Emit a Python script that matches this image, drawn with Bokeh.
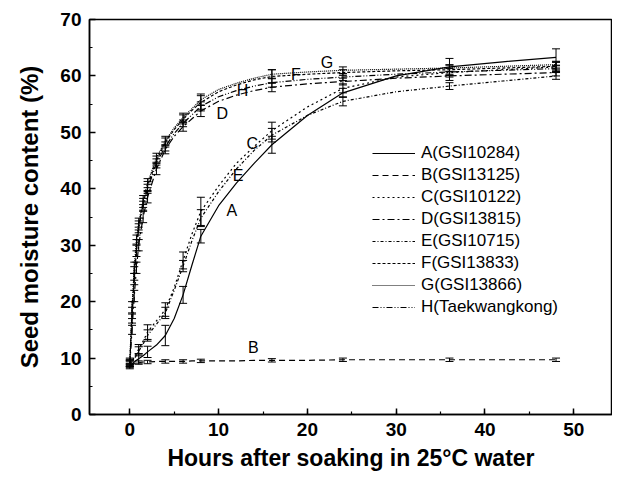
from bokeh.plotting import figure
from bokeh.models import (Range1d, SingleIntervalTicker, Whisker, ColumnDataSource,
                          Legend, LegendItem, TeeHead, Label)
from bokeh.embed import file_html
from bokeh.resources import INLINE

# ---- data ----
T = [0, 0.25, 0.5, 0.75, 1, 1.5, 2, 3, 4, 5, 6, 7, 8, 10, 12, 14, 16, 20, 24, 30, 36, 42, 48]

A = [8.6, 8.9, 9.3, 9.6, 9.9, 10.4, 11.1, 12.3, 14.0, 17.0, 21.2, 26.5, 31.6, 37.0, 41.0, 44.5, 47.8, 53.0, 57.0, 60.0, 61.6, 62.5, 63.3]
B = [8.6, 8.8, 9.0, 9.1, 9.2, 9.3, 9.3, 9.4, 9.4, 9.4, 9.4, 9.5, 9.5, 9.5, 9.5, 9.6, 9.6, 9.6, 9.7, 9.7, 9.7, 9.7, 9.7]
C = [9.0, 9.5, 10.1, 10.8, 11.6, 13.0, 14.6, 16.6, 18.6, 22.5, 27.3, 32.0, 36.0, 40.5, 44.5, 47.5, 50.3, 54.5, 57.8, 59.8, 60.6, 61.1, 61.6]
D = [9.0, 15.0, 21.0, 26.0, 30.0, 35.0, 38.5, 43.5, 47.0, 49.3, 51.0, 52.4, 53.8, 55.5, 56.6, 57.4, 58.0, 58.6, 59.0, 59.6, 60.0, 60.3, 60.6]
E = [9.0, 9.4, 9.9, 10.5, 11.2, 12.5, 14.0, 16.0, 18.0, 22.0, 26.3, 30.8, 34.8, 39.5, 43.5, 46.8, 49.5, 53.0, 55.5, 57.2, 58.2, 59.1, 60.0]
F = [9.3, 18.0, 25.0, 30.0, 33.5, 37.5, 40.5, 45.0, 48.2, 50.5, 52.3, 53.9, 55.3, 57.2, 58.4, 59.3, 59.9, 60.3, 60.6, 60.9, 61.1, 61.4, 61.7]
G = [9.5, 19.0, 26.0, 31.0, 34.0, 38.0, 41.0, 45.5, 48.5, 50.8, 52.6, 54.2, 55.8, 57.6, 58.7, 59.6, 60.3, 60.7, 61.0, 61.2, 61.4, 61.7, 62.0]
H = [9.2, 17.0, 24.0, 29.0, 33.0, 37.0, 40.0, 44.5, 47.5, 49.8, 51.6, 53.1, 54.6, 56.3, 57.4, 58.2, 58.8, 59.4, 59.8, 60.3, 60.7, 61.0, 61.3]

# measurement times carrying error bars
TE_FAST = [0, 0.25, 0.5, 0.75, 1, 1.5, 2, 3, 4, 6, 8, 16, 24, 36, 48]
TE_SLOW = [0, 1, 2, 4, 6, 8, 16, 24, 36, 48]

ERR_A = [0.5, 0.8, 1.0, 1.8, 1.5, 1.2, 1.5, 0.8, 1.5, 1.5]
ERR_B = [0.3, 0.3, 0.3, 0.3, 0.3, 0.3, 0.3, 0.3, 0.3, 0.3]
ERR_C = [0.5, 0.8, 1.3, 1.2, 1.5, 2.5, 1.5, 0.8, 0.8, 0.8]
ERR_E = [0.5, 0.8, 1.0, 1.0, 1.0, 1.5, 1.2, 0.8, 0.6, 0.6]
ERR_D = [0.5, 0.8, 1.0, 1.0, 1.0, 1.0, 1.0, 1.0, 0.8, 0.8, 1.0, 0.8, 0.6, 0.8, 0.6]
ERR_F = [0.5, 1.0, 1.2, 1.0, 0.8, 0.8, 0.8, 0.8, 0.8, 0.8, 1.2, 1.2, 0.5, 0.8, 0.8]
ERR_G = [0.5, 1.0, 1.0, 0.8, 0.8, 0.8, 0.8, 0.8, 0.8, 0.8, 1.0, 0.8, 0.6, 0.6, 0.6]
ERR_H = [0.5, 0.8, 1.0, 1.0, 0.8, 0.8, 0.8, 0.8, 0.8, 0.6, 0.8, 0.8, 0.6, 0.6, 0.6]

NAMES = ["A(GSI10284)", "B(GSI13125)", "C(GSI10122)", "D(GSI13815)",
         "E(GSI10715)", "F(GSI13833)", "G(GSI13866)", "H(Taekwangkong)"]
LETTERS = ["A", "B", "C", "D", "E", "F", "G", "H"]
# curve label anchor positions (data units)
LABEL_X = [11.5, 13.9, 13.8, 10.4, 12.2, 18.7, 22.2, 12.7]
LABEL_Y = [36.2, 11.9, 48.0, 53.3, 42.4, 60.3, 62.4, 57.4]

X_TITLE = "Hours after soaking in 25°C water"
Y_TITLE = "Seed moisture content (%)"

SERIES = [A, B, C, D, E, F, G, H]
ERRS = [ERR_A, ERR_B, ERR_C, ERR_D, ERR_E, ERR_F, ERR_G, ERR_H]
ETIMES = [TE_SLOW, TE_SLOW, TE_SLOW, TE_FAST, TE_SLOW, TE_FAST, TE_FAST, TE_FAST]
DASHES = ["solid", "6 4", "2 3", "7 3 2 3", "3 2 1 2", "3 2", "1 1", "6 2 1 2 1 2"]

FONT = "Liberation Sans"

p = figure(width=612, height=475, x_range=Range1d(-4.54, 54.36), y_range=Range1d(0, 70),
           output_backend="svg", toolbar_location=None,
           min_border_left=89, min_border_right=0, min_border_top=19, min_border_bottom=61)
p.grid.visible = False
p.outline_line_color = "black"
p.outline_line_width = 1.5
p.background_fill_color = "white"
p.border_fill_color = "white"

p.xaxis.ticker = SingleIntervalTicker(interval=10, num_minor_ticks=2)
p.yaxis.ticker = SingleIntervalTicker(interval=10, num_minor_ticks=2)
for ax in (p.xaxis, p.yaxis):
    ax.axis_line_color = "black"
    ax.axis_line_width = 1.5
    ax.major_tick_in = 6
    ax.major_tick_out = 0
    ax.minor_tick_in = 3
    ax.minor_tick_out = 0
    ax.major_tick_line_width = 1.5
    ax.minor_tick_line_width = 1.2
    ax.major_label_text_font = FONT
    ax.major_label_text_font_style = "bold"
    ax.major_label_text_font_size = "19px"
    ax.major_label_text_color = "black"
    ax.axis_label_text_font = FONT
    ax.axis_label_text_font_style = "bold"
    ax.axis_label_text_color = "black"

p.xaxis.axis_label = X_TITLE
p.yaxis.axis_label = Y_TITLE
p.xaxis.axis_label_text_font_size = "23px"
p.yaxis.axis_label_text_font_size = "24px"
p.xaxis.major_label_standoff = 8
p.xaxis.axis_label_standoff = 6
p.yaxis.major_label_standoff = 8
p.yaxis.axis_label_standoff = 14

items = []
for name, letter, ys, err, te, dash, lx, ly in zip(NAMES, LETTERS, SERIES, ERRS, ETIMES, DASHES, LABEL_X, LABEL_Y):
    r = p.line(T, ys, line_color="black", line_width=1.2, line_dash=dash)
    items.append(LegendItem(label=name, renderers=[r]))
    mean = [ys[T.index(t)] for t in te]
    src = ColumnDataSource(dict(x=te, lo=[m - e for m, e in zip(mean, err)],
                                hi=[m + e for m, e in zip(mean, err)]))
    w = Whisker(source=src, base="x", lower="lo", upper="hi", line_color="black", line_width=1,
                lower_head=TeeHead(size=8, line_color="black", line_width=1),
                upper_head=TeeHead(size=8, line_color="black", line_width=1))
    p.add_layout(w)
    p.add_layout(Label(x=lx, y=ly, text=letter, text_font=FONT, text_font_size="16px",
                       text_color="black", text_align="center", text_baseline="middle"))

legend = Legend(items=items, location=(283, 96), orientation="vertical",
                label_text_font=FONT, label_text_font_size="17px", label_text_color="black",
                glyph_width=43, glyph_height=22, label_height=22, spacing=0,
                label_standoff=6, padding=0, margin=0,
                border_line_alpha=0, background_fill_alpha=0)
p.add_layout(legend)

open("out.html", "w").write(file_html(p, INLINE))
